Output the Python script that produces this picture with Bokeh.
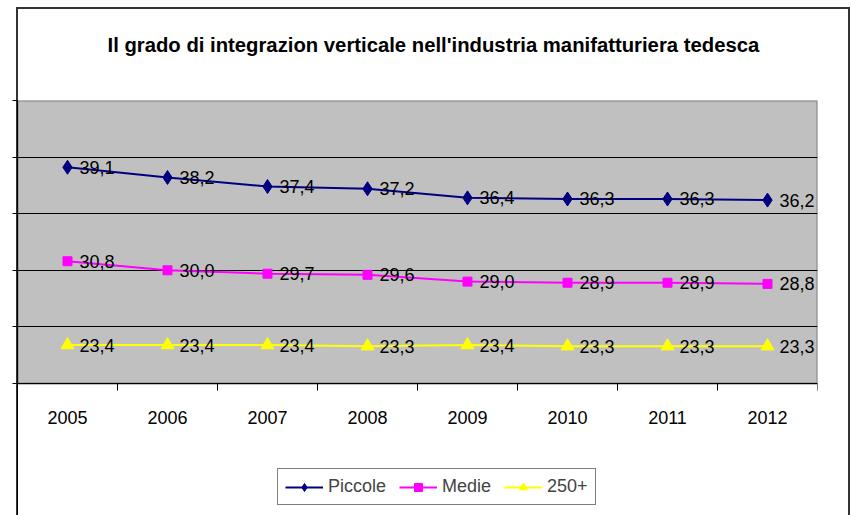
from bokeh.plotting import figure
from bokeh.models import (Range1d, FixedTicker, LinearAxis, Legend, LegendItem,
                          ColumnDataSource, Grid, Title)
from bokeh.core.properties import value
from bokeh.embed import file_html
from bokeh.resources import INLINE

# ---- data ----
years = ["2005", "2006", "2007", "2008", "2009", "2010", "2011", "2012"]
piccole = [39.1, 38.2, 37.4, 37.2, 36.4, 36.3, 36.3, 36.2]
medie = [30.8, 30.0, 29.7, 29.6, 29.0, 28.9, 28.9, 28.8]
grandi = [23.4, 23.4, 23.4, 23.3, 23.4, 23.3, 23.3, 23.3]
series_names = ["Piccole", "Medie", "250+"]
y_ticks = [20, 25, 30, 35, 40, 45]
title_text = "Il grado di integrazion verticale nell'industria manifatturiera tedesca"

FONT = "Liberation Sans"
W, H = 851, 515
PLOT_TOP, PLOT_BOTTOM = 100, 383          # pixel rows of the grey plot area
y_lo, y_hi = y_ticks[0], y_ticks[-1]
# extend the y range below the plot area so that the frame reaches the canvas bottom
y_start = y_lo - (y_hi - y_lo) * (H - PLOT_BOTTOM) / (PLOT_BOTTOM - PLOT_TOP)

xs = list(range(1, len(years) + 1))
x_lo, x_hi = 0.5, len(years) + 0.5

p = figure(width=W, height=H, output_backend="svg", toolbar_location=None,
           x_range=Range1d(x_lo, x_hi), y_range=Range1d(y_start, y_hi),
           x_axis_type=None, y_axis_type=None,
           min_border_left=17, min_border_right=34, min_border_top=PLOT_TOP,
           min_border_bottom=0,
           background_fill_color="white", border_fill_color="white",
           border_fill_alpha=0)
p.grid.visible = False
p.outline_line_color = None

# outer chart border (CSS background behind the transparent canvas border)
p.styles = {
    "background": (
        "linear-gradient(#333,#333) 16px 7px / 2px calc(100% - 7px) no-repeat, "
        "linear-gradient(#333,#333) 16px 7px / 834px 2px no-repeat, "
        "linear-gradient(#333,#333) 848px 7px / 2px calc(100% - 7px) no-repeat, "
        "#ffffff"
    )
}

# grey plot area
p.quad(left=[x_lo], right=[x_hi], bottom=[y_lo], top=[y_hi],
       fill_color="#C0C0C0", line_color="#808080", line_width=2, level="image")

# spacer between frame and title (closest to frame)
p.add_layout(Title(text=" ", text_font_size="1px", standoff=42), "above")

title = Title(text=title_text, align="left", offset=90, vertical_align="bottom",
              text_font=FONT, text_font_size="20.3px", text_font_style="bold",
              text_color="black", standoff=0)
p.add_layout(title, "above")

xaxis = LinearAxis(
    ticker=FixedTicker(ticks=xs, minor_ticks=[x - 0.5 for x in xs] + [len(xs) + 0.5]),
    major_label_overrides={x: y for x, y in zip(xs, years)},
    major_tick_in=0, major_tick_out=0,
    minor_tick_in=0, minor_tick_out=7, minor_tick_line_color="black",
    axis_line_color="black", major_label_standoff=20,
    major_label_text_font=FONT, major_label_text_font_size="18px",
    major_label_text_color="black", fixed_location=y_lo)
p.add_layout(xaxis, "below")

yaxis = LinearAxis(ticker=FixedTicker(ticks=[], minor_ticks=y_ticks),
                   minor_tick_out=5, minor_tick_in=0, minor_tick_line_color="black",
                   major_tick_line_color=None, major_label_standoff=0,
                   axis_line_color="black")
p.add_layout(yaxis, "left")

grid = Grid(dimension=1, ticker=FixedTicker(ticks=y_ticks[1:-1]),
            grid_line_color="black", grid_line_width=1)
p.add_layout(grid)

colors = ["#000080", "#FF00FF", "#FFFF00"]
markers = ["diamond", "square", "triangle"]
sizes = [14, 9, 13]
items = []
for name, vals, c, m, s in zip(series_names, [piccole, medie, grandi], colors, markers, sizes):
    src = ColumnDataSource(dict(x=xs, y=vals, lab=[f"{v:.1f}".replace(".", ",") for v in vals]))
    lr = p.line("x", "y", source=src, line_color=c, line_width=2)
    mr = p.scatter("x", "y", source=src, marker=m, size=s, fill_color=c, line_color=c)
    p.text("x", "y", text="lab", source=src, x_offset=12, text_baseline="middle",
           text_align="left", text_font=value(FONT), text_font_size="18px",
           text_color="black")
    items.append(LegendItem(label=name, renderers=[lr, mr]))

legend = Legend(items=items, orientation="horizontal", location=(260, 10),
                border_line_color="black", border_line_width=1,
                background_fill_color="white", background_fill_alpha=1,
                label_text_font=FONT, label_text_font_size="18px",
                glyph_width=38, glyph_height=20, label_standoff=5,
                spacing=13, padding=7, margin=0)
p.add_layout(legend, "center")

open("out.html", "w").write(file_html(p, INLINE))
